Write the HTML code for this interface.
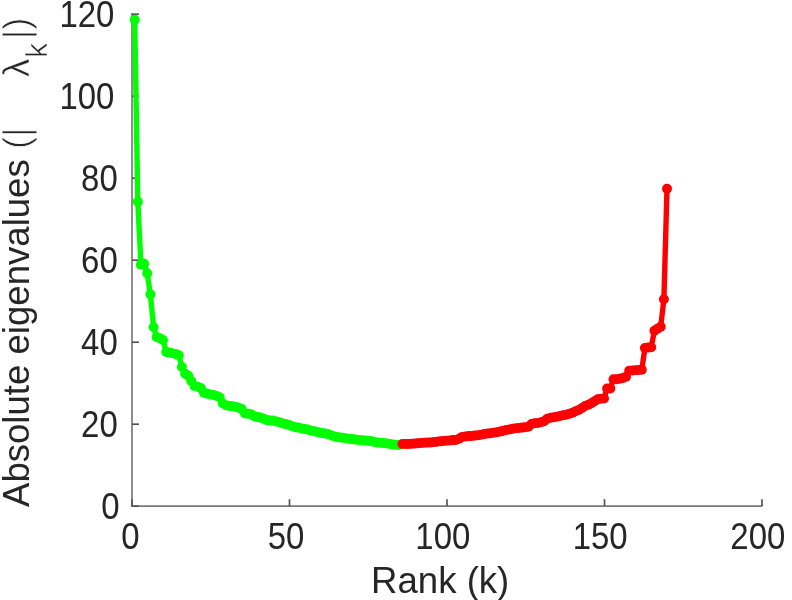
<!DOCTYPE html>
<html><head><meta charset="utf-8"><title>Absolute eigenvalues</title>
<style>html,body{margin:0;padding:0;background:#fff}svg{display:block}text{font-family:"Liberation Sans",sans-serif;fill:#262626}</style></head><body>
<svg width="792" height="600" viewBox="0 0 792 600">
<rect width="792" height="600" fill="#fff"/>
<defs><filter id="soft" x="0" y="0" width="792" height="600" filterUnits="userSpaceOnUse"><feGaussianBlur stdDeviation="0.5"/></filter></defs>
<g filter="url(#soft)">
<g stroke="#7a7a7a" stroke-width="1.7" fill="none">
<path d="M132.0 13V506.2H762"/>
</g>
<g stroke="#555" stroke-width="1.7" fill="none">
<path d="M132.0 506.2h7"/><path d="M132.0 424.2h7"/><path d="M132.0 342.2h7"/><path d="M132.0 260.2h7"/><path d="M132.0 178.2h7"/><path d="M132.0 96.2h7"/><path d="M132.0 14.2h7"/><path d="M132.0 506.2v-7"/><path d="M289.5 506.2v-7"/><path d="M447.0 506.2v-7"/><path d="M604.5 506.2v-7"/><path d="M762.0 506.2v-7"/>
</g>
<text transform="translate(119.5 518.7) scale(0.900 1)" font-size="36.6" text-anchor="end">0</text>
<text transform="translate(117.7 436.7) scale(0.900 1)" font-size="36.6" text-anchor="end">20</text>
<text transform="translate(117.7 354.7) scale(0.900 1)" font-size="36.6" text-anchor="end">40</text>
<text transform="translate(117.7 272.7) scale(0.900 1)" font-size="36.6" text-anchor="end">60</text>
<text transform="translate(117.7 190.7) scale(0.900 1)" font-size="36.6" text-anchor="end">80</text>
<text transform="translate(114.4 108.7) scale(0.900 1)" font-size="36.6" text-anchor="end">100</text>
<text transform="translate(114.4 26.7) scale(0.900 1)" font-size="36.6" text-anchor="end">120</text>
<text transform="translate(130.3 548.5) scale(0.900 1)" font-size="36.6" text-anchor="middle">0</text>
<text transform="translate(286.1 548.5) scale(0.900 1)" font-size="36.6" text-anchor="middle">50</text>
<text transform="translate(442.8 548.5) scale(0.900 1)" font-size="36.6" text-anchor="middle">100</text>
<text transform="translate(600.2 548.5) scale(0.900 1)" font-size="36.6" text-anchor="middle">150</text>
<text transform="translate(757.8 548.5) scale(0.900 1)" font-size="36.6" text-anchor="middle">200</text>
<text transform="translate(440.2 593.4)" font-size="36.6" text-anchor="middle">Rank (k)</text>
<text transform="translate(29.2 507.0) rotate(-90)" font-size="36.6" text-anchor="start">Absolute eigenvalues <tspan stroke="#fff" stroke-width="0.9" paint-order="fill stroke">(|</tspan></text>
<text transform="translate(29.2 77.0) rotate(-90)" font-size="36.6" text-anchor="start" stroke="#fff" stroke-width="0.5" paint-order="fill stroke">λ</text>
<text transform="translate(46.7 57.8) rotate(-90)" font-size="29.5" text-anchor="start" stroke="#fff" stroke-width="0.5" paint-order="fill stroke">k</text>
<text transform="translate(29.2 39.2) rotate(-90)" font-size="36.6" text-anchor="start" stroke="#fff" stroke-width="0.9" paint-order="fill stroke">|)</text>
<g fill="#00ff00" stroke="none">
<polyline points="134.7,19.7 137.8,201.7 140.9,264.7 144.1,263.7 147.2,273.3 150.4,294.4 153.6,327.3 156.7,337.0 159.8,338.3 163.0,340.0 166.2,352.0 169.3,352.6 172.4,353.2 175.6,354.0 178.8,355.2 181.9,367.0 185.1,373.7 188.2,375.7 191.3,381.0 194.5,386.0 197.6,386.7 200.8,388.0 203.9,392.7 207.1,393.6 210.2,394.4 213.4,394.9 216.6,396.0 219.7,397.3 222.8,403.5 226.0,405.3 229.1,406.0 232.3,406.3 235.4,406.7 238.6,407.7 241.8,409.0 244.9,413.4 248.1,413.8 251.2,414.3 254.3,416.3 257.5,417.1 260.6,417.6 263.8,418.7 266.9,420.1 270.1,420.4 273.2,420.6 276.4,421.4 279.5,422.3 282.7,423.4 285.9,424.1 289.0,425.0 292.1,426.3 295.3,427.3 298.4,427.6 301.6,428.4 304.8,429.1 307.9,429.4 311.0,430.7 314.2,431.3 317.4,432.0 320.5,432.7 323.6,433.3 326.8,433.7 329.9,434.7 333.1,436.0 336.2,436.9 339.4,437.3 342.5,437.7 345.7,438.3 348.9,438.7 352.0,439.1 355.1,439.6 358.3,439.9 361.4,440.2 364.6,440.4 367.8,440.7 370.9,441.1 374.0,442.0 377.2,442.4 380.4,442.7 383.5,443.1 386.6,443.5 389.8,444.0 392.9,444.4 396.1,444.7 399.2,444.9" fill="none" stroke="#00ff00" stroke-width="5.4" stroke-linejoin="round" stroke-linecap="round"/>
<circle cx="134.7" cy="19.7" r="5.0"/><circle cx="137.8" cy="201.7" r="5.0"/><circle cx="140.9" cy="264.7" r="5.0"/><circle cx="144.1" cy="263.7" r="5.0"/><circle cx="147.2" cy="273.3" r="5.0"/><circle cx="150.4" cy="294.4" r="5.0"/><circle cx="153.6" cy="327.3" r="5.0"/><circle cx="156.7" cy="337.0" r="5.0"/><circle cx="159.8" cy="338.3" r="5.0"/><circle cx="163.0" cy="340.0" r="5.0"/><circle cx="166.2" cy="352.0" r="5.0"/><circle cx="169.3" cy="352.6" r="5.0"/><circle cx="172.4" cy="353.2" r="5.0"/><circle cx="175.6" cy="354.0" r="5.0"/><circle cx="178.8" cy="355.2" r="5.0"/><circle cx="181.9" cy="367.0" r="5.0"/><circle cx="185.1" cy="373.7" r="5.0"/><circle cx="188.2" cy="375.7" r="5.0"/><circle cx="191.3" cy="381.0" r="5.0"/><circle cx="194.5" cy="386.0" r="5.0"/><circle cx="197.6" cy="386.7" r="5.0"/><circle cx="200.8" cy="388.0" r="5.0"/><circle cx="203.9" cy="392.7" r="5.0"/><circle cx="207.1" cy="393.6" r="5.0"/><circle cx="210.2" cy="394.4" r="5.0"/><circle cx="213.4" cy="394.9" r="5.0"/><circle cx="216.6" cy="396.0" r="5.0"/><circle cx="219.7" cy="397.3" r="5.0"/><circle cx="222.8" cy="403.5" r="5.0"/><circle cx="226.0" cy="405.3" r="5.0"/><circle cx="229.1" cy="406.0" r="5.0"/><circle cx="232.3" cy="406.3" r="5.0"/><circle cx="235.4" cy="406.7" r="5.0"/><circle cx="238.6" cy="407.7" r="5.0"/><circle cx="241.8" cy="409.0" r="5.0"/><circle cx="244.9" cy="413.4" r="5.0"/><circle cx="248.1" cy="413.8" r="5.0"/><circle cx="251.2" cy="414.3" r="5.0"/><circle cx="254.3" cy="416.3" r="5.0"/><circle cx="257.5" cy="417.1" r="5.0"/><circle cx="260.6" cy="417.6" r="5.0"/><circle cx="263.8" cy="418.7" r="5.0"/><circle cx="266.9" cy="420.1" r="5.0"/><circle cx="270.1" cy="420.4" r="5.0"/><circle cx="273.2" cy="420.6" r="5.0"/><circle cx="276.4" cy="421.4" r="5.0"/><circle cx="279.5" cy="422.3" r="5.0"/><circle cx="282.7" cy="423.4" r="5.0"/><circle cx="285.9" cy="424.1" r="5.0"/><circle cx="289.0" cy="425.0" r="5.0"/><circle cx="292.1" cy="426.3" r="5.0"/><circle cx="295.3" cy="427.3" r="5.0"/><circle cx="298.4" cy="427.6" r="5.0"/><circle cx="301.6" cy="428.4" r="5.0"/><circle cx="304.8" cy="429.1" r="5.0"/><circle cx="307.9" cy="429.4" r="5.0"/><circle cx="311.0" cy="430.7" r="5.0"/><circle cx="314.2" cy="431.3" r="5.0"/><circle cx="317.4" cy="432.0" r="5.0"/><circle cx="320.5" cy="432.7" r="5.0"/><circle cx="323.6" cy="433.3" r="5.0"/><circle cx="326.8" cy="433.7" r="5.0"/><circle cx="329.9" cy="434.7" r="5.0"/><circle cx="333.1" cy="436.0" r="5.0"/><circle cx="336.2" cy="436.9" r="5.0"/><circle cx="339.4" cy="437.3" r="5.0"/><circle cx="342.5" cy="437.7" r="5.0"/><circle cx="345.7" cy="438.3" r="5.0"/><circle cx="348.9" cy="438.7" r="5.0"/><circle cx="352.0" cy="439.1" r="5.0"/><circle cx="355.1" cy="439.6" r="5.0"/><circle cx="358.3" cy="439.9" r="5.0"/><circle cx="361.4" cy="440.2" r="5.0"/><circle cx="364.6" cy="440.4" r="5.0"/><circle cx="367.8" cy="440.7" r="5.0"/><circle cx="370.9" cy="441.1" r="5.0"/><circle cx="374.0" cy="442.0" r="5.0"/><circle cx="377.2" cy="442.4" r="5.0"/><circle cx="380.4" cy="442.7" r="5.0"/><circle cx="383.5" cy="443.1" r="5.0"/><circle cx="386.6" cy="443.5" r="5.0"/><circle cx="389.8" cy="444.0" r="5.0"/><circle cx="392.9" cy="444.4" r="5.0"/><circle cx="396.1" cy="444.7" r="5.0"/><circle cx="399.2" cy="444.9" r="5.0"/>
</g>
<g fill="#ff0000" stroke="none">
<polyline points="402.4,444.0 405.6,444.0 408.7,443.9 411.8,443.7 415.0,443.6 418.1,443.3 421.3,443.0 424.4,442.8 427.6,442.6 430.8,442.4 433.9,442.1 437.1,441.7 440.2,441.3 443.3,440.9 446.5,440.7 449.6,440.4 452.8,440.1 455.9,439.9 459.1,438.7 462.2,436.9 465.4,436.5 468.6,436.1 471.7,435.9 474.8,435.6 478.0,435.3 481.1,434.8 484.3,434.0 487.4,433.6 490.6,433.2 493.8,432.8 496.9,432.3 500.1,431.6 503.2,430.7 506.3,430.0 509.5,429.4 512.6,428.7 515.8,428.3 519.0,427.9 522.1,427.6 525.2,427.3 528.4,426.7 531.5,424.0 534.7,423.3 537.8,422.9 541.0,422.3 544.1,421.3 547.3,418.7 550.5,417.7 553.6,417.3 556.8,416.7 559.9,416.0 563.0,415.3 566.2,414.7 569.3,413.7 572.5,412.7 575.6,411.3 578.8,410.0 582.0,408.0 585.1,406.0 588.2,404.7 591.4,403.3 594.5,401.3 597.7,399.3 600.8,398.7 604.0,398.4 607.1,388.5 610.3,388.5 613.5,379.3 616.6,379.2 619.8,378.8 622.9,377.9 626.0,376.7 629.2,370.8 632.3,370.4 635.5,370.2 638.6,370.0 641.8,369.8 644.9,348.0 648.1,347.6 651.2,347.3 654.4,330.7 657.5,328.7 660.7,326.7 663.9,299.3 667.0,188.7" fill="none" stroke="#ff0000" stroke-width="5.4" stroke-linejoin="round" stroke-linecap="round"/>
<circle cx="402.4" cy="444.0" r="5.0"/><circle cx="405.6" cy="444.0" r="5.0"/><circle cx="408.7" cy="443.9" r="5.0"/><circle cx="411.8" cy="443.7" r="5.0"/><circle cx="415.0" cy="443.6" r="5.0"/><circle cx="418.1" cy="443.3" r="5.0"/><circle cx="421.3" cy="443.0" r="5.0"/><circle cx="424.4" cy="442.8" r="5.0"/><circle cx="427.6" cy="442.6" r="5.0"/><circle cx="430.8" cy="442.4" r="5.0"/><circle cx="433.9" cy="442.1" r="5.0"/><circle cx="437.1" cy="441.7" r="5.0"/><circle cx="440.2" cy="441.3" r="5.0"/><circle cx="443.3" cy="440.9" r="5.0"/><circle cx="446.5" cy="440.7" r="5.0"/><circle cx="449.6" cy="440.4" r="5.0"/><circle cx="452.8" cy="440.1" r="5.0"/><circle cx="455.9" cy="439.9" r="5.0"/><circle cx="459.1" cy="438.7" r="5.0"/><circle cx="462.2" cy="436.9" r="5.0"/><circle cx="465.4" cy="436.5" r="5.0"/><circle cx="468.6" cy="436.1" r="5.0"/><circle cx="471.7" cy="435.9" r="5.0"/><circle cx="474.8" cy="435.6" r="5.0"/><circle cx="478.0" cy="435.3" r="5.0"/><circle cx="481.1" cy="434.8" r="5.0"/><circle cx="484.3" cy="434.0" r="5.0"/><circle cx="487.4" cy="433.6" r="5.0"/><circle cx="490.6" cy="433.2" r="5.0"/><circle cx="493.8" cy="432.8" r="5.0"/><circle cx="496.9" cy="432.3" r="5.0"/><circle cx="500.1" cy="431.6" r="5.0"/><circle cx="503.2" cy="430.7" r="5.0"/><circle cx="506.3" cy="430.0" r="5.0"/><circle cx="509.5" cy="429.4" r="5.0"/><circle cx="512.6" cy="428.7" r="5.0"/><circle cx="515.8" cy="428.3" r="5.0"/><circle cx="519.0" cy="427.9" r="5.0"/><circle cx="522.1" cy="427.6" r="5.0"/><circle cx="525.2" cy="427.3" r="5.0"/><circle cx="528.4" cy="426.7" r="5.0"/><circle cx="531.5" cy="424.0" r="5.0"/><circle cx="534.7" cy="423.3" r="5.0"/><circle cx="537.8" cy="422.9" r="5.0"/><circle cx="541.0" cy="422.3" r="5.0"/><circle cx="544.1" cy="421.3" r="5.0"/><circle cx="547.3" cy="418.7" r="5.0"/><circle cx="550.5" cy="417.7" r="5.0"/><circle cx="553.6" cy="417.3" r="5.0"/><circle cx="556.8" cy="416.7" r="5.0"/><circle cx="559.9" cy="416.0" r="5.0"/><circle cx="563.0" cy="415.3" r="5.0"/><circle cx="566.2" cy="414.7" r="5.0"/><circle cx="569.3" cy="413.7" r="5.0"/><circle cx="572.5" cy="412.7" r="5.0"/><circle cx="575.6" cy="411.3" r="5.0"/><circle cx="578.8" cy="410.0" r="5.0"/><circle cx="582.0" cy="408.0" r="5.0"/><circle cx="585.1" cy="406.0" r="5.0"/><circle cx="588.2" cy="404.7" r="5.0"/><circle cx="591.4" cy="403.3" r="5.0"/><circle cx="594.5" cy="401.3" r="5.0"/><circle cx="597.7" cy="399.3" r="5.0"/><circle cx="600.8" cy="398.7" r="5.0"/><circle cx="604.0" cy="398.4" r="5.0"/><circle cx="607.1" cy="388.5" r="5.0"/><circle cx="610.3" cy="388.5" r="5.0"/><circle cx="613.5" cy="379.3" r="5.0"/><circle cx="616.6" cy="379.2" r="5.0"/><circle cx="619.8" cy="378.8" r="5.0"/><circle cx="622.9" cy="377.9" r="5.0"/><circle cx="626.0" cy="376.7" r="5.0"/><circle cx="629.2" cy="370.8" r="5.0"/><circle cx="632.3" cy="370.4" r="5.0"/><circle cx="635.5" cy="370.2" r="5.0"/><circle cx="638.6" cy="370.0" r="5.0"/><circle cx="641.8" cy="369.8" r="5.0"/><circle cx="644.9" cy="348.0" r="5.0"/><circle cx="648.1" cy="347.6" r="5.0"/><circle cx="651.2" cy="347.3" r="5.0"/><circle cx="654.4" cy="330.7" r="5.0"/><circle cx="657.5" cy="328.7" r="5.0"/><circle cx="660.7" cy="326.7" r="5.0"/><circle cx="663.9" cy="299.3" r="5.0"/><circle cx="667.0" cy="188.7" r="5.0"/>
</g>
</g>
</svg>
</body></html>
